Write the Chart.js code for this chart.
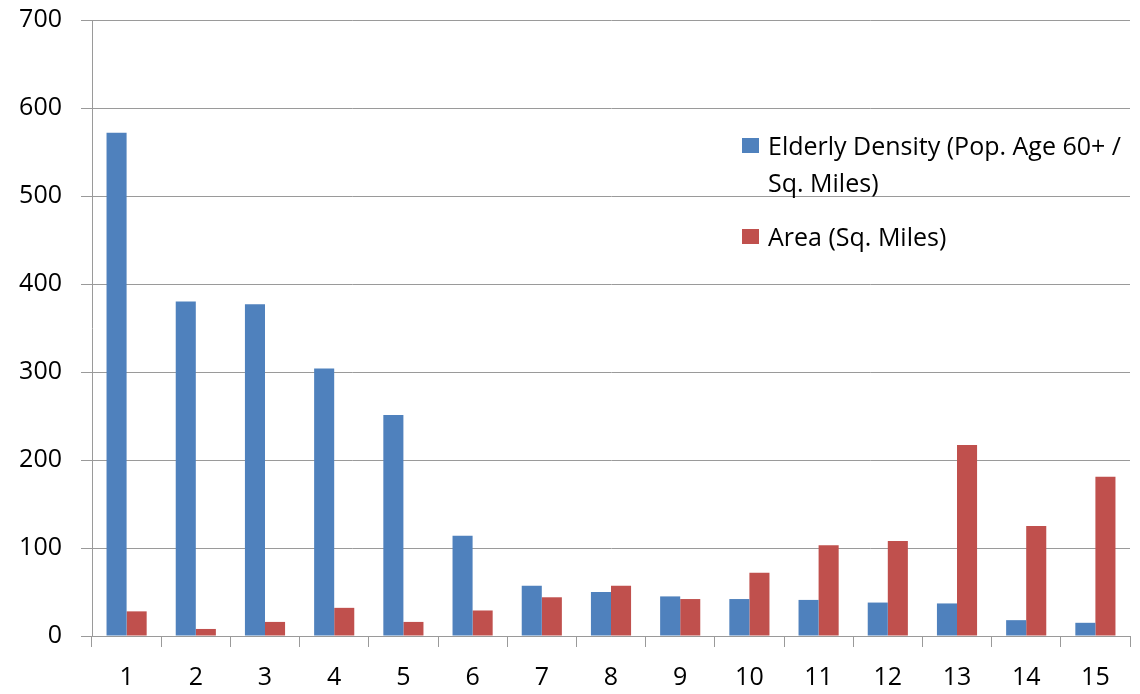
<!DOCTYPE html>
<html>
<head>
<meta charset="utf-8">
<script src="https://cdn.jsdelivr.net/npm/chart.js@4.4.1/dist/chart.umd.min.js"></script>
<style>
  html, body { margin: 0; padding: 0; background: #fff; }
  #wrap { position: relative; width: 1140px; height: 694px; }
  #legend { position: absolute; left: 742px; top: 127px; font-family: "Open Sans", sans-serif; font-size: 25px; color: #000; }
  .item { position: relative; padding-left: 26px; line-height: 37px; width: 400px; white-space: nowrap; }
  .item + .item { margin-top: 17px; }
  .sw { position: absolute; left: 0; top: 11px; width: 17px; height: 15px; }
</style>
</head>
<body>
<div id="wrap">
  <canvas id="c" width="1140" height="694"></canvas>
  <div id="legend"></div>
</div>
<script>
const categories = ['1','2','3','4','5','6','7','8','9','10','11','12','13','14','15'];
const elderlyDensity = [572, 380, 377, 304, 251, 114, 57, 50, 45, 42, 41, 38, 37, 18, 15];
const areaSqMiles = [28, 8, 16, 32, 16, 29, 44, 57, 42, 72, 103, 108, 217, 125, 181];
const yTicks = [0, 100, 200, 300, 400, 500, 600, 700];
const seriesNames = ['Elderly Density (Pop. Age 60+ / Sq. Miles)', 'Area (Sq. Miles)'];
const seriesLegendLines = [['Elderly Density (Pop. Age 60+ /', 'Sq. Miles)'], ['Area (Sq. Miles)']];
const seriesColors = ['#4F81BD', '#C0504D'];

const FONT = '"Open Sans", sans-serif';
const GRID = '#9a9a9a';

const htmlLegend = {
  id: 'htmlLegend',
  afterUpdate(chart) {
    const box = document.getElementById('legend');
    box.innerHTML = '';
    chart.data.datasets.forEach((ds, i) => {
      const item = document.createElement('div');
      item.className = 'item';
      const sw = document.createElement('span');
      sw.className = 'sw';
      sw.style.background = ds.backgroundColor;
      item.appendChild(sw);
      seriesLegendLines[i].forEach((ln, j) => {
        if (j) item.appendChild(document.createElement('br'));
        item.appendChild(document.createTextNode(ln));
      });
      box.appendChild(item);
    });
  }
};

new Chart(document.getElementById('c'), {
  type: 'bar',
  data: {
    labels: categories,
    datasets: [
      { label: seriesNames[0], data: elderlyDensity, backgroundColor: seriesColors[0] },
      { label: seriesNames[1], data: areaSqMiles, backgroundColor: seriesColors[1] }
    ]
  },
  options: {
    responsive: false,
    animation: false,
    devicePixelRatio: 1,
    layout: { padding: { top: 20, right: 10, left: 0, bottom: 0 } },
    datasets: { bar: { categoryPercentage: 0.58, barPercentage: 1.0 } },
    plugins: { legend: { display: false }, tooltip: { enabled: false } },
    scales: {
      x: {
        grid: { display: true, drawOnChartArea: false, drawTicks: true, tickLength: 11, color: GRID, offset: true },
        border: { display: true, color: GRID, width: 1 },
        ticks: { color: '#000', font: { family: FONT, size: 25 }, padding: 16 },
        afterFit(s) { s.height = 58; s.paddingLeft = 0; s.paddingRight = 0; }
      },
      y: {
        min: 0, max: 700,
        afterBuildTicks(s) { s.ticks = yTicks.map(v => ({ value: v })); },
        grid: { color: GRID, tickLength: 11, drawTicks: true },
        border: { display: true, color: GRID, width: 1 },
        ticks: { color: '#000', font: { family: FONT, size: 25 }, padding: 19 },
        afterFit(s) { s.width = 92; s.paddingTop = 0; s.paddingBottom = 0; }
      }
    }
  },
  plugins: [htmlLegend]
});
</script>
</body>
</html>
